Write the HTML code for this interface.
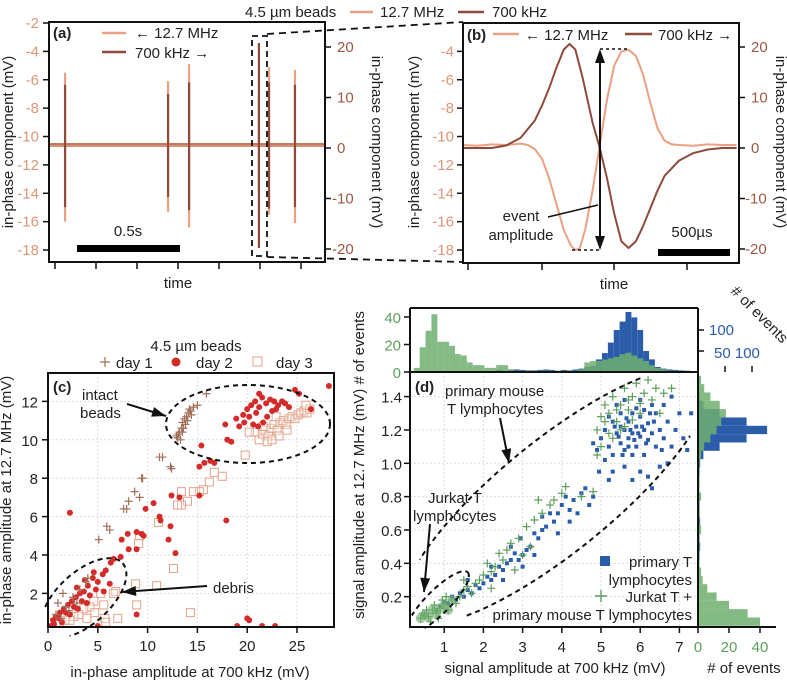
<!DOCTYPE html>
<html><head><meta charset="utf-8"><style>
body{margin:0;background:#fff}
svg{display:block;font-family:"Liberation Sans",Arial,sans-serif}
text{font-size:15px}
</style></head><body>
<svg id="fig" width="787" height="682" viewBox="0 0 787 682" xmlns="http://www.w3.org/2000/svg"></svg>
<script>
// ---------- DATA ----------
// panel a: spikes
const aSpikeTimes=[0.078,0.578,0.68,1.019,1.068,1.194];
const aLightTop=[-5.5,-6.1,-4.9,-7,-5.1,-5.3];
const aLightBot=[-16,-15.3,-16.4,-14,-15.5,-16.1];
const aDarkTop=[12.5,10.7,13,20.8,13,12.5];
const aDarkBot=[-11.7,-9.7,-12.3,-19.8,-12,-11.7];
const aLeftTicks=[-2,-4,-6,-8,-10,-12,-14,-16,-18];
const aRightTicks=[20,10,0,-10,-20];
// panel b: event traces (time in µs)
const bLightT=[0,100,200,300,400,450,500,550,600,650,700,750,780,810,850,900,950,1000,1050,1100,1150,1200,1250,1300,1350,1400,1450,1500,1600,1700,1800,1900];
const bLightV=[-10.6,-10.65,-10.55,-10.6,-10.5,-10.6,-10.9,-11.6,-13,-14.8,-16.6,-17.7,-18,-17.9,-16.5,-13.8,-10.6,-7.4,-5,-4,-3.9,-4.3,-5.6,-7.6,-9.4,-10.3,-10.55,-10.6,-10.65,-10.55,-10.6,-10.6];
const bDarkT=[0,200,300,400,500,550,600,650,700,740,780,830,900,950,1000,1050,1100,1150,1200,1250,1300,1350,1400,1500,1600,1700,1800,1900];
const bDarkV=[0,0,0.5,2,5.5,8.5,12,16,19.5,20.6,19.5,14,5,0,-6,-13,-18.5,-19.8,-18.5,-15.5,-12,-8.5,-5.5,-2.5,-1,-0.3,0,0];
const bLeftTicks=[-4,-6,-8,-10,-12,-14,-16,-18];
// panel c: scatter
const cDay1=[13,10.1,13.2,10.4,13.4,10.6,13.5,10.9,13.7,11.1,13.9,11.2,14.1,11.4,14.3,11.5,14.6,11.7,13.3,10,13.6,10.6,13.8,10.8,14,11,14.4,11.3,13.1,10.3,12.9,10.2,13.5,10.4,14.2,11.6,15,11.8,15.9,12.4,11.2,9.1,11.5,9.1,12.3,8.6,12.4,8.5,9.4,8,9.5,8,8.7,7.3,9.2,7,8.1,6.8,7.6,6.4,7.9,6.4,5.9,5.5,6.2,5.3,5.1,4.8,1,1.5,1.5,2,1.8,1.3,2.5,1.8,3.2,2.2,3.8,2.6,0.8,0.9,2.1,1.1,2.9,1.5,4,2.8,1.3,0.7];
const cDay2=[19.6,11.3,20,11.6,20.4,11.8,20.8,12,21.2,11.7,21.5,12.2,21.9,11.9,22.3,12.1,22.7,12,23.1,11.8,23.5,12,23.8,11.9,24.2,11.7,20.2,11.2,20.6,10.8,21.1,10.7,21.6,10.9,22,11.2,22.5,11.5,20.9,11.4,22.9,11.6,19.2,10.7,19.7,10.9,17.8,10.8,18,10,18.4,9.9,18.9,11.1,21.2,12.4,24.8,12.6,28.2,12.8,28.9,12.2,26.4,11.6,25.2,12.4,15.4,9.7,15.7,8.8,15.2,8.6,16.3,8.9,16.7,8.8,12.4,7.1,13.2,7,15.2,7.1,10.6,6.7,11.2,6,12.3,5.5,9.8,6.4,2.2,6.2,7.4,4.8,8,5.1,8.9,5.2,9.4,5.1,8.1,4.3,8.9,4.3,9.6,5,11.3,5.8,12.1,4.8,12.8,4.1,17.9,5.8,8.9,0.9,20,0.7,20.2,0.6,21.5,0.3,22.8,0.3,19,0.3,5,0.3,6.6,3.8,6.3,3.6,5.8,3.2,5.5,3,5,2.6,4.5,2.8,4,2.4,3.6,2.1,3.2,2,2.8,1.8,2.4,1.6,2,1.4,1.6,1.2,1.2,1,0.8,0.8,0.5,0.6,4.2,1.9,3.4,1.6,2.6,1.3,1.8,1,1.1,0.7,0.6,0.4,3,1.2,2.2,0.9,4.8,2.2,3.9,1.5,2.9,2.3,3.7,2.7,4.6,3.1,5.6,2.1,6.2,2.5,1.4,0.5,0.3,0.3,7.3,3.9];
const cDay3=[21.2,10,21.5,10.3,21.8,10.5,22.1,10.2,22.4,10.6,22.7,10.8,23,10.5,23.3,10.9,23.6,11,23.9,10.8,24.2,11.1,24.5,11.2,24.8,11.1,25.1,11.3,25.4,11.4,25.7,11.5,26,11.4,26.3,11.6,25.9,11.8,22,9.9,22.5,10,23.2,10.2,24,10.5,21.6,10.7,22.9,11.2,20.8,10.4,20.2,10.4,19.8,9.2,17.5,8.1,16.7,8.3,16.2,7.8,15.6,7.4,15.2,7.3,14.6,7.3,14,6.8,13.4,6.6,13,6.6,13.4,7.3,11.1,5.7,9.1,4.6,9.2,5,12.6,3.3,14.3,1,8.8,2.5,10.9,2.4,8.9,1.4,7,0.7,5.7,0.7,6.8,2.1,6.6,2,5.3,2,4.6,1.6,4.2,1.3,3.6,1.2,3.1,0.9,2.6,0.8,2.2,0.6,1.7,0.6,1.2,0.5,0.8,0.4,0.4,0.5,3.9,0.7,4.7,1,5.6,1.4,5.8,0.5];
const cTicksX=[0,5,10,15,20,25];
const cTicksY=[2,4,6,8,10,12];
// panel d
const dBlue=[5,1.15,5.1,1.2,5.2,1.1,5.3,1.25,5.4,1.18,5.5,1.12,5.5,1.3,5.6,1.2,5.6,1.08,5.7,1.15,5.7,1.25,5.8,1.18,5.8,1.3,5.9,1.1,5.9,1.22,6,1.16,6,1.28,6.1,1.2,6.1,1.05,6.2,1.14,6.2,1.24,6.3,1.18,6.4,1.1,6.4,1.3,6.5,1.2,6.6,1.15,6.7,1.25,6.8,1.1,5.3,1.05,5.4,1.35,5.6,1.38,5.8,1.05,6,1.38,6.3,1.35,5.2,1.28,5.9,1.33,5.7,1.1,6.1,1.32,5.5,1.22,5.75,1.2,5.85,1.14,5.65,1.27,6.05,1.22,5.95,1.18,5.45,1.16,6.25,1.3,6.15,1.12,5.35,1.22,5.55,1.05,6.35,1.25,6.55,1.08,6.9,1.2,7,1.3,7.2,1.08,7.1,1.15,6.7,1,6.5,0.98,6.2,0.92,6,0.95,5.8,0.9,6.3,0.85,5.6,0.98,5.3,0.95,5.1,1.02,4.9,1.08,4.8,1.12,5.2,0.9,4.95,0.95,6.6,1.35,6.8,1.4,7.3,1.3,4.8,0.8,4.6,0.85,4.5,0.82,4.3,0.78,4.2,0.72,4,0.75,3.9,0.7,3.8,0.65,3.6,0.62,3.5,0.6,3.4,0.55,3.3,0.58,3.2,0.5,3.1,0.48,3,0.45,2.9,0.42,2.8,0.46,2.7,0.42,2.6,0.4,2.5,0.36,2.4,0.38,2.3,0.33,2.2,0.3,2.1,0.32,2,0.28,1.9,0.25,1.8,0.27,1.7,0.22,1.6,0.24,1.5,0.2,1.4,0.22,1.3,0.18,1.2,0.2,1.1,0.16,1,0.17,0.9,0.14,0.8,0.12,3.7,0.7,4.1,0.8,3.5,0.68,2.95,0.55,2.7,0.5,4.4,0.7,4.7,0.75,3,0.38,2.5,0.3,3.3,0.45,2.2,0.38,1.6,0.3,3.9,0.58,4.2,0.65];
const dGreen=[0.4,0.07,0.5,0.09,0.6,0.08,0.7,0.12,0.8,0.1,0.9,0.13,1,0.15,1.1,0.12,1.2,0.18,1.3,0.16,0.55,0.12,0.65,0.05,0.75,0.15,0.45,0.1,0.85,0.07,0.95,0.18,1.05,0.2,1.4,0.2,1.5,0.24,1.6,0.26,1.7,0.22,1.8,0.28,1.9,0.3,2,0.33,2.2,0.35,2.1,0.4,2.3,0.38,2.5,0.42,2.6,0.48,2.4,0.46,2.7,0.52,2.9,0.55,3.1,0.62,3.3,0.66,3.2,0.5,3.5,0.7,3.7,0.75,3.8,0.78,4,0.82,4.1,0.86,4.5,0.8,4.8,0.83,3.4,0.78,2.8,0.36,1.5,0.3,2.2,0.25,3,0.45,4.9,1.2,5,1.28,5.1,1.35,5.2,1.3,5.3,1.4,5.4,1.25,5.5,1.35,5.6,1.45,5.7,1.32,5.8,1.4,5.9,1.48,6,1.36,6.1,1.42,6.2,1.5,6.4,1.45,6.6,1.42,6.8,1.45,5,1.1,5.2,1.18,5.4,1.32,5.6,1.22,5.8,1.26,6,1.3,5.3,1.15,5.7,1.38,5.5,1.2,4.9,1.05,5.1,1.25,6.3,1.38,6.5,1.3];
const dTopBins=[0.15,0.3,0.45,0.6,0.75,0.9,1.05,1.2,1.35,1.5,1.65,1.8,1.95,2.1,2.25,2.4,2.55,2.7,2.85,3,3.15,3.3,3.45,3.6,3.75,3.9,4.05,4.2,4.35,4.5,4.65,4.8,4.95,5.1,5.25,5.4,5.55,5.7,5.85,6,6.15,6.3,6.45,6.6,6.75,6.9,7.05,7.2,7.35];
const dTopGreen=[0,3,18,30,42,22,22,19,13,12,7,5,5,3,3,5,5,2,1,1,1,1,1,1,1,1,1,1,1,2,7,8,8,9,10,11,13,14,12,10,8,5,3,2,1,1,1,0,0];
const dTopBlue=[0,0,0,0,0,0,0,0,0,0,0,0,0,0,0,5,3,5,6,5,4,4,5,6,5,3,5,4,6,8,12,15,30,45,70,100,120,143,130,100,50,30,12,8,6,5,4,3,2];
const dRightBins=[0.05,0.1,0.15,0.2,0.25,0.3,0.35,0.4,0.45,0.5,0.55,0.6,0.65,0.7,0.75,0.8,0.85,0.9,0.95,1,1.05,1.1,1.15,1.2,1.25,1.3,1.35,1.4,1.45,1.5];
const dRightGreen=[40,32,20,12,6,3,2,1,1,1,1,2,1,1,1,2,1,1,1,1,2,4,8,12,15,18,14,8,4,2];
const dRightBlue=[0,0,0,0,0,0,0,0,3,4,3,3,4,3,3,3,2,2,3,4,10,40,90,128,90,40,10,3,0,0];
const dTicksX=[1,2,3,4,5,6,7];
const dTicksY=[0.2,0.4,0.6,0.8,1.0,1.2,1.4];

// ---------- SCALES ----------
const xa=t=>49+t*206;
const yL=v=>23+(-2-v)*14.19;
const yR=v=>148-v*5.05;
const xb=t=>463+t*0.144;
const xc=v=>48+v*9.96, yc=v=>631.8-v*19.2;
const xd=v=>405+v*39.2, yd=v=>630-v*166.7;
const yTopG=c=>372-c*1.375, yTopB=c=>372-c*0.42;
const xRG=c=>698+c*1.55, xRB=c=>698+c*0.54;

const LIGHT='#eba083', DARK='#8e4b3b', LT='#de9677', DT='#9a5943';
const RED='#d42a2a', D1='#a0705a', D3='#e2a48b', BLUE='#2a5caa', GREEN='#5e9f5e', GH='#6fae6f';
const NS='http://www.w3.org/2000/svg';
const svg=document.getElementById('fig');
function mk(tag,attrs,name,inter,parent){
  const el=document.createElementNS(NS,tag);
  for(const k in attrs) el.setAttribute(k,attrs[k]);
  
  
  (parent||svg).appendChild(el);return el;
}
function txt(x,y,s,name,o){o=o||{};const e=mk('text',Object.assign({x:x,y:y,fill:'#222'},o),name,false);e.textContent=s;return e;}
function line(x1,y1,x2,y2,name,o){return mk('line',Object.assign({x1,y1,x2,y2,stroke:'#111','stroke-width':1.5},o||{}),name,false);}
function box(x,y,w,h,name){return mk('rect',{x,y,width:w,height:h,fill:'none',stroke:'#111','stroke-width':2},name,false);}
function arrowHead(x1,y1,x2,y2,name){const a=Math.atan2(y2-y1,x2-x1),L=14,W=5;
 const p=[[x2,y2],[x2-L*Math.cos(a)+W*Math.sin(a),y2-L*Math.sin(a)-W*Math.cos(a)],[x2-L*Math.cos(a)-W*Math.sin(a),y2-L*Math.sin(a)+W*Math.cos(a)]];
 mk('polygon',{points:p.map(q=>q.join(',')).join(' '),fill:'#111'},name,false);}
function arrow(x1,y1,x2,y2,name){line(x1,y1,x2,y2,name+'-shaft',{'stroke-width':2});arrowHead(x1,y1,x2,y2,name+'-head');}
function ellipse(cx,cy,rx,ry,rot,name,clip){const e=mk('ellipse',{cx,cy,rx,ry,fill:'none',stroke:'#111','stroke-width':2,'stroke-dasharray':'5,4',transform:`rotate(${rot} ${cx} ${cy})`},name,false);if(clip)e.setAttribute('clip-path',clip);return e;}

const defs=mk('defs',{},'defs',false);
const cp1=mk('clipPath',{id:'clipC'},'clip-c',false,defs);mk('rect',{x:48,y:373,width:286,height:254},'clip-c-rect',false,cp1);
const cp2=mk('clipPath',{id:'clipD'},'clip-d',false,defs);mk('rect',{x:410,y:372,width:288,height:255},'clip-d-rect',false,cp2);

// ---------- TOP LEGEND ----------
txt(245,17,'4.5 µm beads','top-legend-title',{'font-size':16});
line(350,12,373,12,'legend-line-12-7mhz',{stroke:LIGHT,'stroke-width':2.5});
txt(380,17,'12.7 MHz','legend-label-12-7mhz',{'font-size':16});
line(458,12,484,12,'legend-line-700khz',{stroke:DARK,'stroke-width':2.5});
txt(492,17,'700 kHz','legend-label-700khz',{'font-size':16});

// ---------- PANEL A ----------
line(49,145,325,145,'a-baseline-light',{stroke:'#c07a60','stroke-width':4});
line(49,146,325,146,'a-baseline-dark',{stroke:LIGHT,'stroke-width':1.5,opacity:0.8});
for(let i=0;i<aSpikeTimes.length;i++){
  const x=xa(aSpikeTimes[i]);
  line(x,yL(aLightTop[i]),x,yL(aLightBot[i]),'a-spike-light',{stroke:LIGHT,'stroke-width':2.2});
  line(x,yR(aDarkTop[i]),x,yR(aDarkBot[i]),'a-spike-dark',{stroke:DARK,'stroke-width':2.2});
}
box(49,22,276,240,'a-plot-frame');
aLeftTicks.forEach(v=>{line(43,yL(v),49,yL(v),'a-left-tick');txt(39,yL(v)+5,String(v),'a-left-tick-label',{'text-anchor':'end',fill:LT,'font-size':16});});
aRightTicks.forEach(v=>{line(325,yR(v),331,yR(v),'a-right-tick');txt(v<0?332:337,yR(v)+5,String(v),'a-right-tick-label',{fill:DT,'font-size':16});});
[55,96,137,178,219,260,301].forEach(x=>line(x,262,x,269,'a-bottom-tick'));
txt(178,288,'time','a-x-title',{'text-anchor':'middle','font-size':16});
txt(0,0,'in-phase component (mV)','a-left-title',{'text-anchor':'middle','font-size':16,transform:'translate(13,142) rotate(-90)'});
txt(0,0,'in-phase component (mV)','a-right-title',{'text-anchor':'middle','font-size':16,transform:'translate(372,142) rotate(90)'});
txt(53,38,'(a)','a-panel-label',{'font-weight':'bold','font-size':16});
line(102,33,126,33,'a-legend-line-light',{stroke:LIGHT,'stroke-width':2.5});
txt(135,38,'← 12.7 MHz','a-legend-light',{'font-size':16});
line(102,52,126,52,'a-legend-line-dark',{stroke:DARK,'stroke-width':2.5});
txt(135,58,'700 kHz →','a-legend-dark',{'font-size':16});
mk('rect',{x:77,y:245,width:103,height:7,fill:'#000'},'a-scale-bar',false);
txt(128,236,'0.5s','a-scale-label',{'text-anchor':'middle','font-size':16});
mk('rect',{x:252,y:36,width:15,height:220,fill:'none',stroke:'#111','stroke-width':1.8,'stroke-dasharray':'6,4'},'a-zoom-box',false);
line(267,34,463,22,'zoom-connector-top',{'stroke-dasharray':'7,5','stroke-width':1.8});
line(267,257,463,262,'zoom-connector-bottom',{'stroke-dasharray':'7,5','stroke-width':1.8});

// ---------- PANEL B ----------
mk('polyline',{points:bLightT.map((t,i)=>xb(t)+','+yL(bLightV[i])).join(' '),fill:'none',stroke:LIGHT,'stroke-width':2,'stroke-linejoin':'round'},'b-trace-12-7mhz',false);
mk('polyline',{points:bDarkT.map((t,i)=>xb(t)+','+yR(bDarkV[i])).join(' '),fill:'none',stroke:DARK,'stroke-width':2,'stroke-linejoin':'round'},'b-trace-700khz',false);
box(463,23,276,240,'b-plot-frame');
bLeftTicks.forEach(v=>{line(457,yL(v),463,yL(v),'b-left-tick');txt(454,yL(v)+5,String(v),'b-left-tick-label',{'text-anchor':'end',fill:LT,'font-size':16});});
aRightTicks.forEach(v=>{line(739,yR(v),745,yR(v),'b-right-tick');txt(v<0?745:751,yR(v)+5,String(v),'b-right-tick-label',{fill:DT,'font-size':16});});
[468,542,614,687].forEach(x=>line(x,263,x,270,'b-bottom-tick'));
txt(614,289,'time','b-x-title',{'text-anchor':'middle','font-size':16});
txt(0,0,'in-phase component (mV)','b-left-title',{'text-anchor':'middle','font-size':16,transform:'translate(419,142) rotate(-90)'});
txt(0,0,'in-phase component (mV)','b-right-title',{'text-anchor':'middle','font-size':16,transform:'translate(776,142) rotate(90)'});
txt(467,40,'(b)','b-panel-label',{'font-weight':'bold','font-size':16});
line(493,34,519,34,'b-legend-line-light',{stroke:LIGHT,'stroke-width':2.5});
txt(525,40,'← 12.7 MHz','b-legend-light',{'font-size':16});
line(625,34,652,34,'b-legend-line-dark',{stroke:DARK,'stroke-width':2.5});
txt(658,40,'700 kHz →','b-legend-dark',{'font-size':16});
line(600,49,630,49,'b-amp-top-dots',{'stroke-dasharray':'3,3'});
line(572,250,600,250,'b-amp-bottom-dots',{'stroke-dasharray':'3,3'});
line(600,62,600,237,'b-amp-arrow',{'stroke-width':2});
arrowHead(600,100,600,49,'b-amp-arrow-up');arrowHead(600,200,600,250,'b-amp-arrow-down');
line(548,217,598,205,'b-amp-leader');
txt(521,221,'event','b-amp-label-1',{'text-anchor':'middle','font-size':16});
txt(521,240,'amplitude','b-amp-label-2',{'text-anchor':'middle','font-size':16});
mk('rect',{x:658,y:249,width:72,height:7,fill:'#000'},'b-scale-bar',false);
txt(692,237,'500µs','b-scale-label',{'text-anchor':'middle','font-size':16});

// ---------- PANEL C ----------
cTicksX.forEach(v=>line(xc(v),373,xc(v),627,'c-grid-x',{stroke:'#ddd','stroke-width':1,'stroke-dasharray':'2,2'}));
cTicksY.forEach(v=>line(48,yc(v),334,yc(v),'c-grid-y',{stroke:'#ddd','stroke-width':1,'stroke-dasharray':'2,2'}));
const gC=mk('g',{'clip-path':'url(#clipC)'},'c-points',false);
for(let i=0;i<cDay3.length;i+=2){mk('rect',{x:xc(cDay3[i])-4,y:yc(cDay3[i+1])-4,width:8,height:8,fill:'#fff','fill-opacity':0.3,stroke:D3,'stroke-width':1},'c-point-day3',false,gC);}
for(let i=0;i<cDay2.length;i+=2){mk('circle',{cx:xc(cDay2[i]),cy:yc(cDay2[i+1]),r:3,fill:RED},'c-point-day2',false,gC);}
for(let i=0;i<cDay1.length;i+=2){const x=xc(cDay1[i]),y=yc(cDay1[i+1]);mk('path',{d:`M${x-4},${y}H${x+4}M${x},${y-4}V${y+4}`,stroke:D1,'stroke-width':1.2},'c-point-day1',false,gC);}
box(48,373,286,254,'c-plot-frame');
cTicksX.forEach(v=>{line(xc(v),627,xc(v),633,'c-x-tick');txt(xc(v),651,String(v),'c-x-tick-label',{'text-anchor':'middle','font-size':16});});
cTicksY.forEach(v=>{line(42,yc(v),48,yc(v),'c-y-tick');txt(38,yc(v)+6,String(v),'c-y-tick-label',{'text-anchor':'end','font-size':16});});
txt(190,677,'in-phase amplitude at 700 kHz (mV)','c-x-title',{'text-anchor':'middle','font-size':16});
txt(0,0,'in-phase amplitude at 12.7 MHz (mV)','c-y-title',{'text-anchor':'middle','font-size':16,transform:'translate(11,500) rotate(-90)'});
txt(53,392,'(c)','c-panel-label',{'font-weight':'bold','font-size':16});
txt(196,351,'4.5 µm beads','c-legend-title',{'text-anchor':'middle','font-size':16});
mk('path',{d:'M100,362H110M105,357V367',stroke:D1,'stroke-width':1.2},'c-legend-marker-day1',false);
txt(116,368,'day 1','c-legend-day1',{'font-size':16});
mk('circle',{cx:176,cy:362,r:4.5,fill:RED},'c-legend-marker-day2',false);
txt(196,368,'day 2','c-legend-day2',{'font-size':16});
mk('rect',{x:253,y:357,width:9,height:9,fill:'none',stroke:D3},'c-legend-marker-day3',false);
txt(276,368,'day 3','c-legend-day3',{'font-size':16});
ellipse(248,424,82,39,0,'c-ellipse-intact');
ellipse(84,598,52,26,-42,'c-ellipse-debris','url(#clipC)');
txt(82,400,'intact','c-label-intact',{'font-size':16});
txt(80,418,'beads','c-label-beads',{'font-size':16});
arrow(127,404,166,416,'c-arrow-intact');
txt(213,593,'debris','c-label-debris',{'font-size':16});
arrow(207,586,122,592,'c-arrow-debris');

// ---------- PANEL D ----------
dTicksX.forEach(v=>line(xd(v),372,xd(v),627,'d-grid-x',{stroke:'#ddd','stroke-width':1,'stroke-dasharray':'2,2'}));
dTicksY.forEach(v=>line(410,yd(v),698,yd(v),'d-grid-y',{stroke:'#ddd','stroke-width':1,'stroke-dasharray':'2,2'}));
const gD=mk('g',{'clip-path':'url(#clipD)'},'d-points',false);
for(let i=0;i<dBlue.length;i+=2){mk('rect',{x:xd(dBlue[i])-2,y:yd(dBlue[i+1])-2,width:4,height:4,fill:BLUE},'d-point-primary',false,gD);}
for(let i=0;i<dGreen.length;i+=2){const x=xd(dGreen[i]),y=yd(dGreen[i+1]);mk('path',{d:`M${x-4},${y}H${x+4}M${x},${y-4}V${y+4}`,stroke:GREEN,'stroke-width':1.2},'d-point-jurkat',false,gD);}
for(let i=0;i<dGreen.length && dGreen[i]<1.3;i+=2){mk('circle',{cx:xd(dGreen[i]),cy:yd(dGreen[i+1]),r:5,fill:GH,opacity:0.6},'d-low-cluster-blob',false,gD);}
const bw=0.15*39.2;
dTopBins.forEach((b,i)=>{if(dTopBlue[i]>0)mk('rect',{x:xd(b-0.075),y:yTopB(dTopBlue[i]),width:bw,height:372-yTopB(dTopBlue[i]),fill:BLUE},'d-top-hist-bar-primary',false);});
dTopBins.forEach((b,i)=>{if(dTopGreen[i]>0)mk('rect',{x:xd(b-0.075),y:yTopG(dTopGreen[i]),width:bw,height:372-yTopG(dTopGreen[i]),fill:GH,opacity:0.85},'d-top-hist-bar-jurkat',false);});
const bh=0.05*166.7;
dRightBins.forEach((b,i)=>{if(dRightBlue[i]>0)mk('rect',{x:698,y:yd(b+0.025),width:xRB(dRightBlue[i])-698,height:bh,fill:BLUE},'d-right-hist-bar-primary',false);});
dRightBins.forEach((b,i)=>{if(dRightGreen[i]>0)mk('rect',{x:698,y:yd(b+0.025),width:xRG(dRightGreen[i])-698,height:bh,fill:GH,opacity:0.85},'d-right-hist-bar-jurkat',false);});
box(410,372,288,255,'d-plot-frame');
line(410,308,698,308,'d-top-hist-frame-top',{'stroke-width':2});
line(410,308,410,372,'d-top-hist-frame-left',{'stroke-width':2});
line(698,308,698,372,'d-top-hist-frame-right',{'stroke-width':2});
line(698,627,776,627,'d-right-hist-axis',{'stroke-width':2});
dTicksX.forEach(v=>{line(xd(v),627,xd(v),633,'d-x-tick');txt(xd(v),652,String(v),'d-x-tick-label',{'text-anchor':'middle','font-size':16});});
dTicksY.forEach(v=>{line(404,yd(v),410,yd(v),'d-y-tick');txt(402,yd(v)+6,v.toFixed(1),'d-y-tick-label',{'text-anchor':'end','font-size':16});});
[0,20,40].forEach(c=>{line(404,yTopG(c),410,yTopG(c),'d-top-hist-tick');txt(401,yTopG(c)+6,String(c),'d-top-hist-tick-label',{'text-anchor':'end',fill:GREEN,'font-size':16});});
[50,100].forEach(c=>{line(698,yTopB(c),704,yTopB(c),'d-top-hist-right-tick');});
txt(709,335,'100','d-top-hist-right-label',{fill:BLUE,'font-size':16});
[50,100].forEach(c=>{line(xRB(c),372,xRB(c),366,'d-right-hist-top-tick');});
txt(714,358,'50 100','d-right-hist-top-label',{fill:BLUE,'font-size':16});
[0,20,40].forEach(c=>{line(xRG(c),627,xRG(c),633,'d-right-hist-tick');txt(xRG(c),652,String(c),'d-right-hist-tick-label',{'text-anchor':'middle',fill:GREEN,'font-size':16});});
txt(744,673,'# of events','d-right-hist-title',{'text-anchor':'middle','font-size':16});
txt(0,0,'# of events','d-top-right-title',{'text-anchor':'middle','font-size':16,transform:'translate(756,318) rotate(45)'});
txt(555,673,'signal amplitude at 700 kHz (mV)','d-x-title',{'text-anchor':'middle','font-size':16});
txt(0,0,'signal amplitude at 12.7 MHz (mV)  # of events','d-y-title',{'text-anchor':'middle','font-size':16,transform:'translate(364,465) rotate(-90)'});
txt(415,392,'(d)','d-panel-label',{'font-weight':'bold','font-size':16});
ellipse(556,496,192,56,-39,'d-ellipse-primary','url(#clipD)');
ellipse(438,602,42,12,-45,'d-ellipse-jurkat','url(#clipD)');
txt(445,396,'primary mouse','d-label-primary-1',{'font-size':16});
txt(447,414,'T lymphocytes','d-label-primary-2',{'font-size':16});
arrow(500,418,509,463,'d-arrow-primary');
txt(428,503,'Jurkat T','d-label-jurkat-1',{'font-size':16});
txt(413,521,'lymphocytes','d-label-jurkat-2',{'font-size':16});
arrow(430,524,424,592,'d-arrow-jurkat');
mk('rect',{x:600,y:556,width:10,height:10,fill:BLUE},'d-legend-marker-primary',false);
txt(692,567,'primary T','d-legend-primary-1',{'text-anchor':'end','font-size':16});
txt(692,585,'lymphocytes','d-legend-primary-2',{'text-anchor':'end','font-size':16});
mk('path',{d:'M595,596H607M601,590V602',stroke:GREEN,'stroke-width':1.4},'d-legend-marker-jurkat',false);
txt(692,602,'Jurkat T +','d-legend-jurkat-1',{'text-anchor':'end','font-size':16});
txt(692,620,'primary mouse T lymphocytes','d-legend-jurkat-2',{'text-anchor':'end','font-size':16});
</script>
</body></html>
